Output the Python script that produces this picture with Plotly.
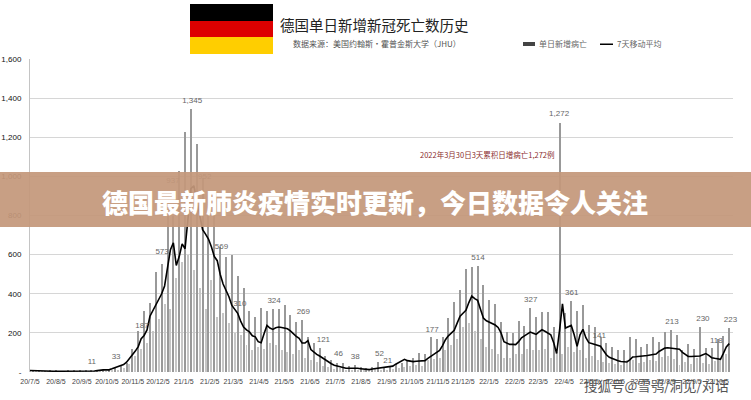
import pandas as pd
import plotly.graph_objects as go

# Values. Bars come in pairs (low, weekly peak), one value per 3.5 days
start_date = pd.Timestamp("2020-07-05")
daily_deaths = [
    3, 8, 3, 6, 2, 5, 3, 7, 2, 6, 3, 5, 3, 9, 2, 6, 4, 11, 3, 7, 3, 9, 4, 8, 4, 12, 5, 14,
    8, 20, 12, 33, 20, 45, 40, 120, 80, 210, 120, 310, 150, 355, 210, 510, 270, 550,
    350, 800, 320, 800, 480, 1030, 560, 1227, 600, 1345, 520, 1165, 430, 990, 320, 800, 470, 800,
    280, 640, 300, 590, 250, 600, 200, 490, 190, 430, 140, 310, 110, 280, 130, 325, 120, 310,
    150, 320, 140, 320, 110, 340, 100, 290, 90, 255, 110, 268, 70, 180, 60, 150, 50, 124,
    30, 80, 25, 60, 15, 45, 18, 48, 10, 30, 12, 38, 8, 28, 6, 18, 8, 25, 15, 52,
    8, 21, 10, 25, 15, 40, 20, 45, 25, 60, 30, 70, 35, 95, 30, 90, 60, 180, 65, 170,
    70, 180, 110, 275, 140, 357, 170, 420, 230, 527, 250, 537, 210, 540, 170, 445, 130, 368, 120, 348,
    90, 255, 70, 204, 70, 200, 90, 260, 90, 235, 120, 327, 110, 280, 110, 305, 120, 305, 70, 230,
    100, 1272, 90, 300, 130, 361, 100, 310, 110, 340, 70, 240, 80, 230, 60, 180, 50, 150,
    45, 130, 40, 110, 35, 110, 60, 180, 60, 170, 45, 130, 50, 145, 60, 180, 55, 155,
    75, 205, 80, 213, 65, 190, 35, 110, 50, 145, 40, 120, 70, 230, 45, 125, 40, 125,
    55, 170, 60, 182, 90, 223,
]
moving_avg = [
    8, 7, 6, 5, 5, 5, 4, 4, 4, 4, 4, 4, 4, 4, 3, 3, 4, 4, 4, 4, 4, 4, 5, 7, 10, 11, 11, 11,
    16, 22, 28, 33, 38, 50, 68, 85, 107, 130, 170, 187, 215, 285, 315, 345, 375, 400, 440, 540,
    625, 660, 545, 590, 655, 630, 800, 937, 952, 880, 790, 727, 705, 680, 640, 590, 569, 500,
    450, 420, 385, 340, 320, 300, 260, 230, 215, 205, 185, 180, 155, 150, 195, 238, 225, 218,
    226, 230, 227, 224, 221, 210, 195, 182, 172, 148, 148, 160, 115, 100, 90, 82, 72, 60,
    48, 42, 35, 30, 26, 22, 19, 19, 20, 20, 19, 17, 15, 13, 12, 15, 17, 20, 22, 24,
    26, 28, 30, 40, 47, 55, 65, 58, 54, 53, 55, 57, 58, 58, 70, 82, 90, 100, 110, 135,
    165, 185, 200, 213, 250, 285, 300, 315, 355, 388, 375, 366, 320, 275, 262, 255, 250, 240, 228, 200,
    155, 150, 141, 141, 140, 155, 175, 185, 195, 204, 198, 192, 205, 216, 208, 198, 190, 150, 95, 213,
    349, 225, 230, 238, 190, 131, 190, 218, 175, 150, 146, 142, 138, 132, 110, 88, 75, 68, 60, 57,
    54, 52, 51, 62, 77, 78, 79, 80, 82, 84, 87, 90, 92, 105, 115, 122, 124, 122, 119, 117,
    116, 100, 88, 80, 79, 80, 80, 82, 88, 94, 85, 73, 70, 68, 65, 95, 128, 145,
]

y_ticks = [0, 200, 400, 600, 800, 1000, 1200, 1400, 1600]
y_tick_labels = ["-", "200", "400", "600", "800", "1,000", "1,200", "1,400", "1,600"]
x_tick_labels = [
    "20/7/5", "20/8/5", "20/9/5", "20/10/5", "20/11/5", "20/12/5", "21/1/5", "21/2/5",
    "21/3/5", "21/4/5", "21/5/5", "21/6/5", "21/7/5", "21/8/5", "21/9/5", "21/10/5",
    "21/11/5", "21/12/5", "22/1/5", "22/2/5", "22/3/5", "22/4/5", "22/5/5", "22/6/5",
    "22/7/5", "22/8/5", "22/9/5", "22/10/5",
]

# Data labels: text, days after start, height of the text
label_text = ["11", "33", "187", "573", "937", "1,345", "952", "569", "310", "324", "269", "121", "46",
              "38", "52", "21", "177", "514", "327", "361", "1,272", "141", "213", "230", "118", "223"]
label_day = [74, 103, 134, 158, 171, 194, 209, 229, 251, 292, 327, 351, 369,
             389, 418, 428, 481, 536, 599, 648, 633, 681, 768, 805, 821, 838]
label_y = [51, 77, 235, 613, 975, 1385, 995, 639, 347, 362, 307, 164, 92,
           77, 92, 56, 215, 583, 368, 404, 1318, 184, 256, 271, 158, 266]

bar_dates = start_date + pd.to_timedelta([i * 3.5 for i in range(len(daily_deaths))], unit="D")
line_dates = start_date + pd.to_timedelta([i * 3.5 for i in range(len(moving_avg))], unit="D")
label_dates = start_date + pd.to_timedelta(label_day, unit="D")
x_ticks = pd.date_range(start_date, periods=len(x_tick_labels), freq=pd.DateOffset(months=1))

WIDTH, HEIGHT = 751, 400
LEFT, RIGHT, TOP, BOTTOM = 30, 733, 59, 372
FONT = "Liberation Sans"
CJK = "Noto Sans CJK SC"


# Page pixels to paper coordinates, for the things that sit outside the plot
def px(x):
    return (x - LEFT) / (RIGHT - LEFT)


def py(y):
    return (BOTTOM - y) / (BOTTOM - TOP)


def page_rect(x0, y0, x1, y1, color, layer="above", opacity=1):
    return dict(type="rect", xref="paper", yref="paper", x0=px(x0), x1=px(x1), y0=py(y0), y1=py(y1),
                fillcolor=color, line_width=0, layer=layer, opacity=opacity)


def page_text(x, y, text, size, color="#333333", family=CJK, anchor="left", weight=None):
    return dict(xref="paper", yref="paper", x=px(x), y=py(y), text=text, showarrow=False,
                xanchor=anchor, yanchor="middle",
                font=dict(family=family, size=size, color=color, weight=weight))


fig = go.Figure()

# Lows are drawn lighter than the weekly peaks, as in the picture
bar_colors = ["#c6c6c6" if i % 2 == 0 else "#999999" for i in range(len(daily_deaths))]

fig.add_trace(go.Bar(
    x=bar_dates,
    y=daily_deaths,
    width=1.2 * 86400000,
    marker=dict(color=bar_colors, line_width=0),
    showlegend=False,
))

fig.add_trace(go.Scatter(
    x=line_dates,
    y=moving_avg,
    mode="lines",
    line=dict(color="#000000", width=1.6),
    showlegend=False,
))

fig.add_trace(go.Scatter(
    x=label_dates,
    y=label_y,
    mode="text",
    text=label_text,
    cliponaxis=False,
    textfont=dict(family=FONT, size=8, color="#666666"),
    showlegend=False,
))

shapes = [
    # flag
    page_rect(190, 4, 273, 21, "#000000"),
    page_rect(190, 21, 273, 37, "#dd0000"),
    page_rect(190, 37, 273, 54, "#ffce00"),
    # legend swatches
    page_rect(523, 42, 535, 46, "#444444"),
    page_rect(600, 43.5, 613, 45, "#000000"),
    # banner over the chart
    page_rect(0, 172, WIDTH, 227, "#c4987b", opacity=0.93),
]

annotations = [
    page_text(278, 24, "德国单日新增新冠死亡数历史", 14.5, "#222222"),
    page_text(291, 43, "数据来源\uff1a美国约翰斯·霍普金斯大学\uff08JHU\uff09", 8, "#555555"),
    page_text(537, 44, "单日新增病亡", 8, "#666666"),
    page_text(615, 44, "7天移动平均", 8, "#666666"),
    page_text(418, 154, "2022年3月30日3天累积日增病亡1,272例", 7.5, "#8b2e2e"),
    page_text(375, 201, "德国最新肺炎疫情实时更新\uff0c今日数据令人关注", 26, "#ffffff",
              anchor="center", weight=900),
    page_text(731, 385, "搜狐号@雪鸮/洞见/对话", 13.5, "#555555", anchor="right"),
]

fig.update_layout(
    width=WIDTH,
    height=HEIGHT,
    margin=dict(l=LEFT, r=WIDTH - RIGHT, t=TOP, b=HEIGHT - BOTTOM, pad=0),
    plot_bgcolor="#ffffff",
    paper_bgcolor="#ffffff",
    bargap=0,
    shapes=shapes,
    annotations=annotations,
    xaxis=dict(
        automargin=False,
        range=[start_date, start_date + pd.Timedelta(days=841)],
        tickmode="array",
        tickvals=x_ticks,
        ticktext=x_tick_labels,
        tickangle=0,
        showgrid=False,
        showline=False,
        ticks="outside",
        ticklen=3,
        tickcolor="#ffffff",
        tickfont=dict(family=FONT, size=7, color="#444444"),
    ),
    yaxis=dict(
        automargin=False,
        range=[0, 1600],
        tickmode="array",
        tickvals=y_ticks,
        ticktext=y_tick_labels,
        showgrid=True,
        gridcolor="#d6d6d6",
        gridwidth=1,
        zeroline=False,
        showline=True,
        linecolor="#c4c4c4",
        ticks="outside",
        ticklen=6,
        tickcolor="#ffffff",
        tickfont=dict(family=FONT, size=8, color="#111111"),
    ),
)

# The page's default body margin would push the figure 8px off
fig.write_html("out.html", config={"displayModeBar": False},
               post_script="document.body.style.margin='0';")
